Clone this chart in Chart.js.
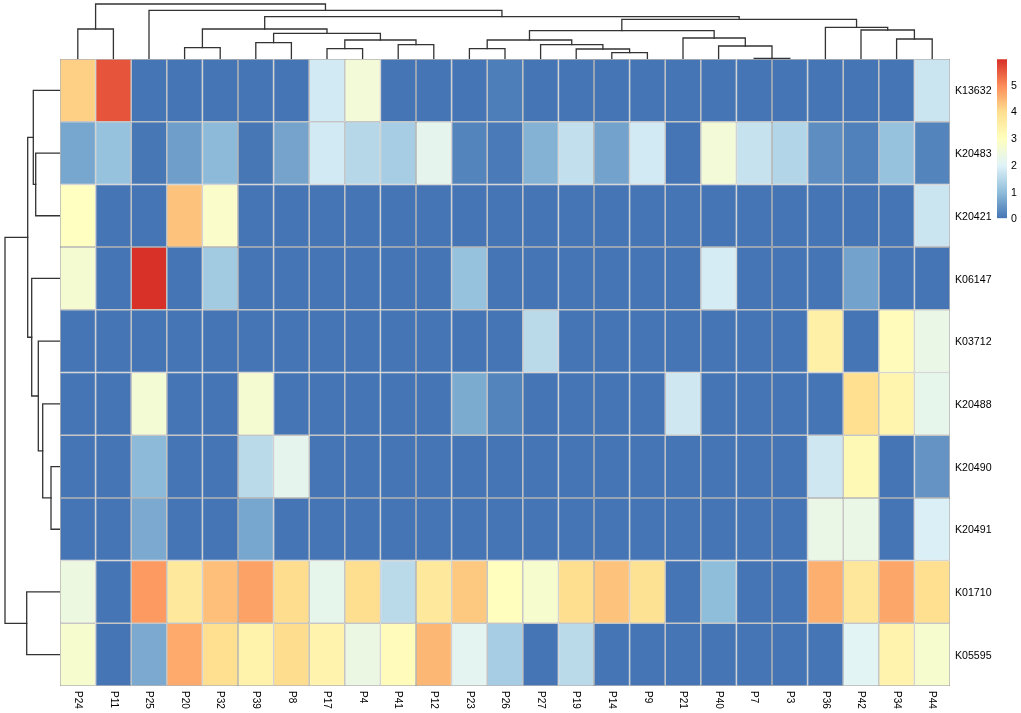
<!DOCTYPE html>
<html>
<head>
<meta charset="utf-8">
<title>Heatmap</title>
<script src="https://cdn.jsdelivr.net/npm/chart.js@4"></script>
<style>
html, body { margin: 0; padding: 0; background: #fff; }
body { width: 1021px; height: 713px; overflow: hidden; position: relative; }
canvas { position: absolute; }
#heat { left: 59px; top: 58px; }
#top { left: 60px; top: 0; }
#left { left: 0; top: 59px; }
#bar { left: 997px; top: 49px; }
</style>
</head>
<body>
<canvas id="top" width="890" height="59"></canvas>
<canvas id="left" width="60" height="627"></canvas>
<canvas id="heat" width="960" height="655"></canvas>
<canvas id="bar" width="24" height="180"></canvas>
<script>
var samples = ['P24','P11','P25','P20','P32','P39','P8','P17','P4','P41','P12','P23','P26','P27','P19','P14','P9','P21','P40','P7','P3','P36','P42','P34','P44'];
var genes = ['K13632','K20483','K20421','K06147','K03712','K20488','K20490','K20491','K01710','K05595'];

var k13632 = [4.15,5.55,0,0,0,0,0,1.8,2.55,0,0,0,0.12,0,0,0,0,0,0,0,0,0,0,0,1.7];
var k20483 = [0.65,1.05,0.03,0.55,0.92,0.03,0.62,1.8,1.45,1.25,2.15,0.2,0.07,0.82,1.6,0.6,1.8,0,2.55,1.65,1.4,0.33,0.16,1.05,0.2];
var k20421 = [2.95,0,0,4.3,2.8,0,0,0,0,0,0,0,0,0,0,0,0,0,0,0,0,0,0,0,1.7];
var k06147 = [2.65,0,5.92,0,1.2,0,0,0,0,0,0,1.05,0,0,0,0,0,0,1.85,0,0,0,0.6,0,0];
var k03712 = [0,0,0,0,0,0,0,0,0,0,0,0,0,1.5,0,0,0,0,0,0,0,3.45,0,3.05,2.3];
var k20488 = [0,0,2.6,0,0,2.65,0,0,0,0,0,0.72,0.2,0,0,0,0,1.75,0,0,0,0,3.95,3.3,2.2];
var k20490 = [0,0,0.92,0,0,1.5,2.15,0,0,0,0,0,0,0,0,0,0,0,0,0,0,1.75,3.15,0,0.4];
var k20491 = [0,0,0.7,0,0,0.65,0,0,0,0,0,0,0,0,0,0,0,0,0,0,0,2.3,2.3,0,1.9];
var k01710 = [2.4,0,4.8,3.7,4.35,4.7,4.0,2.2,3.98,1.5,3.7,4.25,3.0,2.7,3.98,4.3,3.9,0,0.97,0,0,4.55,3.75,4.65,3.95];
var k05595 = [2.7,0,0.7,4.6,3.95,3.4,4.0,3.35,2.35,3.05,4.45,2.1,1.25,0,1.5,0,0,0,0,0,0,0,2.05,3.35,2.7];
var rows = [k13632,k20483,k20421,k06147,k03712,k20488,k20490,k20491,k01710,k05595];

// same form as hclust: negative = leaf, positive = earlier merge (1 based)
var colMerge = [[-1,-2],[-4,-5],[-6,-7],[-8,-9],[-10,-11],[4,5],[3,6],[2,7],[-12,-13],[-16,-17],[-15,10],[-14,11],[9,12],[-20,-21],[-19,14],[-18,15],[13,16],[-24,-25],[-23,18],[-22,19],[17,20],[8,21],[-3,22],[1,23]];
var colHeight = [30,11.3,16.3,10.3,14.3,19,25.7,30,10.3,6.3,10,14.3,19,0.5,13,21,28.3,20,29,31.7,39.7,42.3,48.7,55];
var rowMerge = [[-2,-3],[-1,1],[-7,-8],[-6,3],[-5,4],[-4,5],[2,6],[-9,-10],[7,8]];
var rowHeight = [24.3,26.7,9,17.3,21.7,28.3,32.3,33.3,55];

var maxValue = 5.94;
var paletteColors = ['#4575B4','#91BFDB','#E0F3F8','#FFFFBF','#FEE090','#FC8D59','#D73027'];
var legendTicks = [0,1,2,3,4,5];

function hexRgb(h) {
    return [parseInt(h.substr(1,2),16), parseInt(h.substr(3,2),16), parseInt(h.substr(5,2),16)];
}

function valueColor(v) {
    var t = Math.min(v / maxValue, 1) * (paletteColors.length - 1);
    var i = Math.min(Math.floor(t), paletteColors.length - 2);
    var a = hexRgb(paletteColors[i]), b = hexRgb(paletteColors[i + 1]);
    var f = t - i;
    return 'rgb(' + [0,1,2].map(function(k) { return Math.round(a[k] + (b[k] - a[k]) * f); }).join(',') + ')';
}

// one U shaped line per merge, in (position along leaves, height)
function dendroLines(merge, height) {
    var centers = [], lines = [];
    function pos(id) { return id < 0 ? -id - 0.5 : centers[id - 1]; }
    function h(id) { return id < 0 ? 0 : height[id - 1]; }
    merge.forEach(function(m, i) {
        var a = pos(m[0]), b = pos(m[1]);
        centers.push((a + b) / 2);
        lines.push([[a, h(m[0])], [a, height[i]], [b, height[i]], [b, h(m[1])]]);
    });
    return lines;
}

function lineDatasets(lines, flip) {
    return lines.map(function(l) {
        return {
            data: l.map(function(p) { return flip ? {x: p[1], y: p[0]} : {x: p[0], y: p[1]}; }),
            showLine: true,
            pointRadius: 0,
            borderColor: '#333333',
            borderWidth: 1.3,
            borderCapStyle: 'square',
            tension: 0,
            clip: false
        };
    });
}

var baseOptions = {
    responsive: false,
    animation: false,
    devicePixelRatio: 1,
    plugins: { legend: { display: false }, tooltip: { enabled: false } }
};

new Chart(document.getElementById('top').getContext('2d'), {
    type: 'scatter',
    data: { datasets: lineDatasets(dendroLines(colMerge, colHeight), false) },
    options: Object.assign({}, baseOptions, {
        scales: {
            x: { type: 'linear', display: false, min: 0, max: samples.length },
            y: { type: 'linear', display: false, min: 0, max: 59 }
        }
    })
});

new Chart(document.getElementById('left').getContext('2d'), {
    type: 'scatter',
    data: { datasets: lineDatasets(dendroLines(rowMerge, rowHeight), true) },
    options: Object.assign({}, baseOptions, {
        scales: {
            x: { type: 'linear', display: false, min: 0, max: 60, reverse: true },
            y: { type: 'linear', display: false, min: 0, max: genes.length, reverse: true }
        }
    })
});

// labels under the cells read downwards, which the axis itself can't do
var sampleLabels = {
    id: 'sampleLabels',
    afterDraw: function(chart) {
        var ctx = chart.ctx, x = chart.scales.x;
        ctx.save();
        ctx.fillStyle = '#000';
        ctx.font = '10px "Liberation Sans"';
        ctx.textAlign = 'left';
        ctx.textBaseline = 'middle';
        samples.forEach(function(name, i) {
            ctx.save();
            ctx.translate(x.getPixelForValue(i + 0.5), chart.chartArea.bottom + 5);
            ctx.rotate(Math.PI / 2);
            ctx.fillText(name, 0, 0);
            ctx.restore();
        });
        ctx.restore();
    }
};

// the y tick text sits a bit high for this font, push it down once per update
var nudgeTicks = {
    id: 'nudgeTicks',
    afterUpdate: function(chart) {
        chart.scales.y.getLabelItems(chart.chartArea).forEach(function(item) {
            item.options.translation[1] += 1.2;
        });
    }
};

new Chart(document.getElementById('heat').getContext('2d'), {
    type: 'bar',
    data: {
        labels: genes,
        datasets: samples.map(function(name, c) {
            return {
                label: name,
                data: genes.map(function() { return 1; }),
                backgroundColor: rows.map(function(r) { return valueColor(r[c]); }),
                borderColor: '#9e9e9e',
                borderWidth: 0.75,
                borderSkipped: false,
                inflateAmount: 0,
                barPercentage: 1,
                categoryPercentage: 1
            };
        })
    },
    options: Object.assign({}, baseOptions, {
        indexAxis: 'y',
        layout: { padding: { left: 1, top: 1, right: 0, bottom: 27 } },
        scales: {
            x: { type: 'linear', stacked: true, display: false, min: 0, max: samples.length },
            y: {
                type: 'category',
                stacked: true,
                position: 'right',
                grid: { display: false, drawTicks: false },
                border: { display: false },
                ticks: { padding: 5, color: '#000', font: { family: '"Liberation Sans"', size: 10.6 }, autoSkip: false },
                afterFit: function(s) { s.width = 69; s.paddingTop = 0; s.paddingBottom = 0; }
            }
        }
    }),
    plugins: [sampleLabels, nudgeTicks]
});

new Chart(document.getElementById('bar').getContext('2d'), {
    type: 'bar',
    data: {
        labels: ['value'],
        datasets: [{
            data: [[0, maxValue]],
            barPercentage: 1,
            categoryPercentage: 1,
            backgroundColor: function(c) {
                var area = c.chart.chartArea;
                if (!area) return paletteColors[0];
                var g = c.chart.ctx.createLinearGradient(0, area.bottom, 0, area.top);
                paletteColors.forEach(function(col, i) { g.addColorStop(i / (paletteColors.length - 1), col); });
                return g;
            }
        }]
    },
    options: Object.assign({}, baseOptions, {
        layout: { padding: { top: 10.3, bottom: 10.7 } },
        scales: {
            x: { display: false },
            y: {
                position: 'right',
                min: 0,
                max: maxValue,
                grid: { display: false, drawTicks: false },
                border: { display: false },
                afterBuildTicks: function(s) { s.ticks = legendTicks.map(function(v) { return {value: v}; }); },
                ticks: { padding: 4, color: '#000', font: { family: '"Liberation Sans"', size: 10.6 } },
                afterFit: function(s) { s.width = 14; s.paddingTop = 0; s.paddingBottom = 0; }
            }
        }
    }),
    plugins: [nudgeTicks]
});
</script>
</body>
</html>
